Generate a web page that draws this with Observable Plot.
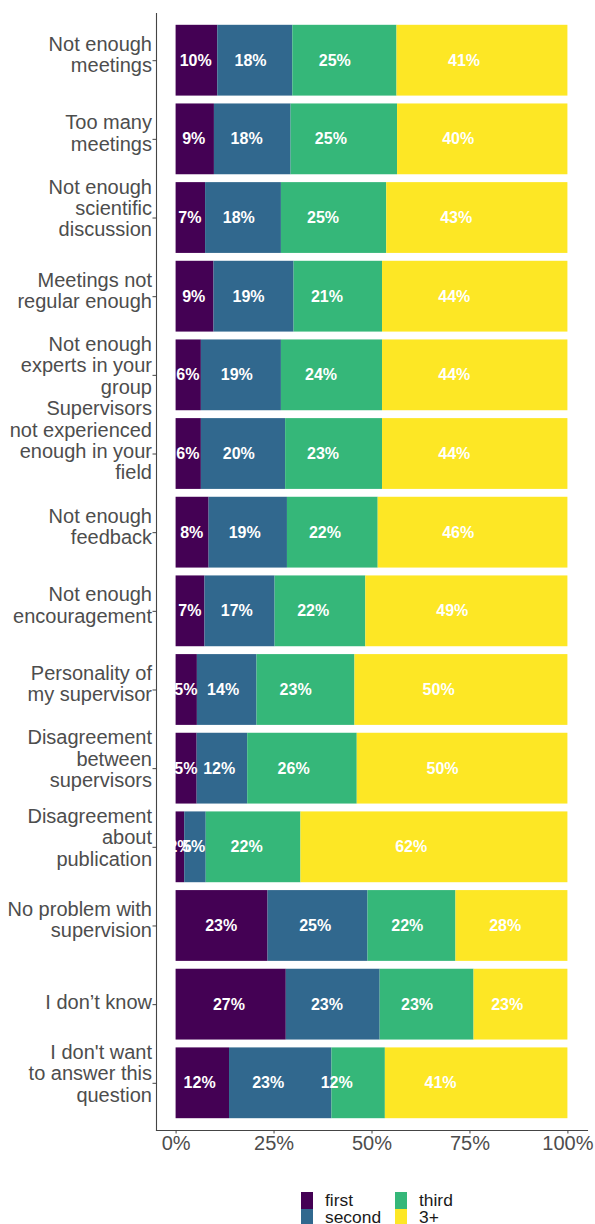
<!DOCTYPE html>
<html><head><meta charset="utf-8">
<script src="https://cdn.jsdelivr.net/npm/d3@7"></script>
<script src="https://cdn.jsdelivr.net/npm/@observablehq/plot@0.6"></script>
<style>
body{margin:0;background:#fff;font-family:"Liberation Sans",Arial,Helvetica,sans-serif;}
#wrap{position:relative;width:595px;height:1224px;overflow:hidden;}
.li{position:absolute;display:flex;align-items:flex-start;height:17px;}
.sw{width:12px;height:17px;}
.lt{margin-left:12px;font-size:17.4px;line-height:17px;color:#1a1a1a;white-space:nowrap;}
</style></head><body><div id="wrap"><div id="chart"></div><div id="legend"></div></div>
<script>
const categories = [
  "Not enough meetings","Too many meetings","Not enough scientific discussion",
  "Meetings not regular enough","Not enough experts in your group",
  "Supervisors not experienced enough in your field","Not enough feedback",
  "Not enough encouragement","Personality of my supervisor",
  "Disagreement between supervisors","Disagreement about publication",
  "No problem with supervision","I don’t know","I don't want to answer this question"
];
const tickLabels = [
  "Not enough\nmeetings","Too many\nmeetings","Not enough\nscientific\ndiscussion",
  "Meetings not\nregular enough","Not enough\nexperts in your\ngroup",
  "Supervisors\nnot experienced\nenough in your\nfield","Not enough\nfeedback",
  "Not enough\nencouragement","Personality of\nmy supervisor",
  "Disagreement\nbetween\nsupervisors","Disagreement\nabout\npublication",
  "No problem with\nsupervision","I don’t know","I don't want\nto answer this\nquestion"
];
const groups = ["first","second","third","3+"];
const colors = ["#440154","#31688E","#35B779","#FDE725"];
const first     = [10, 9, 7, 9, 6, 6, 8, 7, 5, 5, 2,23,27,12];
const second    = [18,18,18,19,19,20,19,17,14,12, 5,25,23,23];
const third     = [25,25,25,21,24,23,22,22,23,26,22,22,23,12];
const threePlus = [41,40,43,44,44,44,46,49,50,50,62,28,23,41];
const xTicks = [0, 0.25, 0.5, 0.75, 1];

const series = [first, second, third, threePlus];
const data = [];
categories.forEach((c, i) => {
  groups.forEach((g, j) => data.push({category: c, group: g, value: series[j][i]}));
});
const labelRows = categories.map((c, i) => ({category: c, label: tickLabels[i], n: tickLabels[i].split("\n").length}));

const FONT = "Liberation Sans, Arial, Helvetica, sans-serif";
const labelMarks = [1,2,3,4].map(n => Plot.text(labelRows.filter(d => d.n === n), {
  x: () => -0.05, y: "category", text: "label", textAnchor: "end", dx: -4.5,
  dy: -(2.5 + 3.7 * (n - 1)), lineHeight: 1.07, fontSize: 20, fill: "#4D4D4D", fontFamily: FONT
}));

const chart = Plot.plot({
  width: 595, height: 1162,
  marginTop: 13, marginBottom: 32, marginLeft: 156, marginRight: 8,
  style: {fontFamily: FONT, background: "#fff"},
  x: {domain: [-0.05, 1.05], axis: null, label: null},
  y: {domain: categories, paddingInner: 0.1, paddingOuter: 0.15, round: false, axis: null, label: null},
  color: {domain: groups, range: colors},
  marks: [
    Plot.barX(data, Plot.stackX({x: "value", y: "category", fill: "group", offset: "normalize"})),
    Plot.text(data, Plot.stackX({x: d => d.value / 100, y: "category", z: "group",
      text: d => d.value + "%", fill: "white", fontWeight: "bold", fontSize: 16, fontFamily: FONT})),
    Plot.frame({anchor: "left", stroke: "#444", strokeWidth: 1.1}),
    Plot.frame({anchor: "bottom", stroke: "#444", strokeWidth: 1.1}),
    Plot.axisY({tickSize: 3.5, tickFormat: () => "", stroke: "#444", label: null}),
    Plot.axisX({ticks: xTicks, tickFormat: d3.format(".0%"), tickSize: 3.5, tickPadding: 2,
      fontSize: 20, fill: "#4D4D4D", stroke: "#444", label: null}),
    ...labelMarks
  ]
});
document.getElementById("chart").appendChild(chart);

const legend = document.getElementById("legend");
groups.forEach((g, j) => {
  const col = Math.floor(j / 2), row = j % 2;
  const item = document.createElement("div");
  item.className = "li";
  item.style.left = (301 + col * 94) + "px";
  item.style.top = (1192 + row * 17) + "px";
  item.innerHTML = `<div class="sw" style="background:${colors[j]}"></div><span class="lt">${g}</span>`;
  legend.appendChild(item);
});
</script></body></html>
